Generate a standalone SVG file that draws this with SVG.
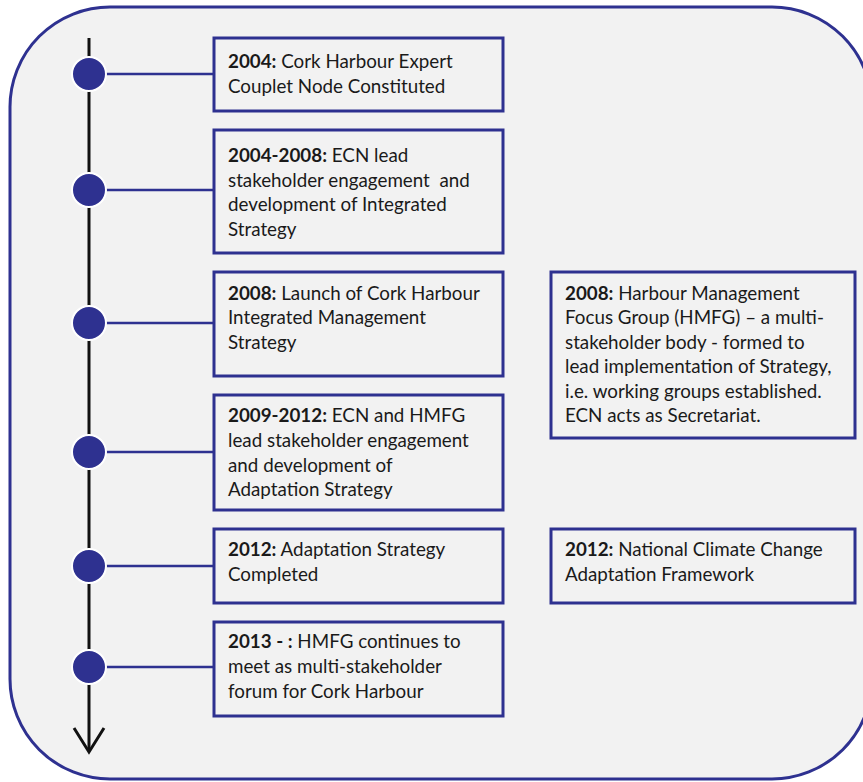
<svg xmlns="http://www.w3.org/2000/svg" width="863" height="782" viewBox="0 0 863 782">
<style>
.bg{fill:#ffffff}
.frame{fill:#f2f2f2;stroke:#2e3190;stroke-width:3}
.box{fill:#f2f2f2;stroke:#2e3190;stroke-width:3}
.conn{stroke:#2e3190;stroke-width:2.5;fill:none}
.dot{fill:#2e3190;stroke:#ffffff;stroke-width:2}
.axis{stroke:#111111;stroke-width:3;fill:none}
text{font-family:Lato,"Open Sans","Liberation Sans",sans-serif;font-size:18.8px;fill:#1a1a1a}
.b{font-weight:bold}
</style>
<rect class="bg" x="0" y="0" width="863" height="782"/>
<rect class="frame" x="10" y="7" width="862" height="772" rx="100" ry="100"/>
<g id="connectors">
<line class="axis" x1="89" y1="38" x2="89" y2="751"/>
<polyline class="axis" points="74,728 89,752 104,728"/>
<line class="conn" x1="89" y1="74" x2="214" y2="74"/>
<line class="conn" x1="89" y1="190" x2="214" y2="190"/>
<line class="conn" x1="89" y1="323" x2="214" y2="323"/>
<line class="conn" x1="89" y1="452" x2="214" y2="452"/>
<line class="conn" x1="89" y1="566" x2="214" y2="566"/>
<line class="conn" x1="89" y1="667" x2="214" y2="667"/>
</g>
<g id="dots">
<circle class="dot" cx="89" cy="74" r="17"/>
<circle class="dot" cx="89" cy="190" r="17"/>
<circle class="dot" cx="89" cy="323" r="17"/>
<circle class="dot" cx="89" cy="452" r="17"/>
<circle class="dot" cx="89" cy="566" r="17"/>
<circle class="dot" cx="89" cy="667" r="17"/>
</g>
<g id="n2004">
<rect class="box" x="214" y="38" width="289" height="73"/>
<text x="228" y="68"><tspan class="b">2004:</tspan> Cork Harbour Expert</text>
<text x="228" y="93">Couplet Node Constituted</text>
</g>
<g id="n2004-2008">
<rect class="box" x="214" y="130" width="289" height="123"/>
<text x="228" y="162"><tspan class="b">2004-2008:</tspan> ECN lead</text>
<text x="228" y="187">stakeholder engagement &#160;and</text>
<text x="228" y="211">development of Integrated</text>
<text x="228" y="236">Strategy</text>
</g>
<g id="n2008">
<rect class="box" x="214" y="272" width="289" height="104"/>
<text x="228" y="300"><tspan class="b">2008:</tspan> Launch of Cork Harbour</text>
<text x="228" y="324">Integrated Management</text>
<text x="228" y="349">Strategy</text>
</g>
<g id="n2009-2012">
<rect class="box" x="214" y="395" width="289" height="115"/>
<text x="228" y="422"><tspan class="b">2009-2012:</tspan> ECN and HMFG</text>
<text x="228" y="447">lead stakeholder engagement</text>
<text x="228" y="472">and development of</text>
<text x="228" y="496">Adaptation Strategy</text>
</g>
<g id="n2012">
<rect class="box" x="214" y="529" width="289" height="74"/>
<text x="228" y="556"><tspan class="b">2012:</tspan> Adaptation Strategy</text>
<text x="228" y="581">Completed</text>
</g>
<g id="n2013">
<rect class="box" x="214" y="622" width="289" height="94"/>
<text x="228" y="648"><tspan class="b">2013 - :</tspan> HMFG continues to</text>
<text x="228" y="673">meet as multi-stakeholder</text>
<text x="228" y="698">forum for Cork Harbour</text>
</g>
<g id="n2008-hmfg">
<rect class="box" x="551" y="272" width="304" height="166"/>
<text x="565" y="300"><tspan class="b">2008:</tspan> Harbour Management</text>
<text x="565" y="324">Focus Group (HMFG) – a multi-</text>
<text x="565" y="349">stakeholder body - formed to</text>
<text x="565" y="373">lead implementation of Strategy,</text>
<text x="565" y="398">i.e. working groups established.</text>
<text x="565" y="422">ECN acts as Secretariat.</text>
</g>
<g id="n2012-nccaf">
<rect class="box" x="551" y="529" width="304" height="74"/>
<text x="565" y="556"><tspan class="b">2012:</tspan> National Climate Change</text>
<text x="565" y="581">Adaptation Framework</text>
</g>
</svg>
